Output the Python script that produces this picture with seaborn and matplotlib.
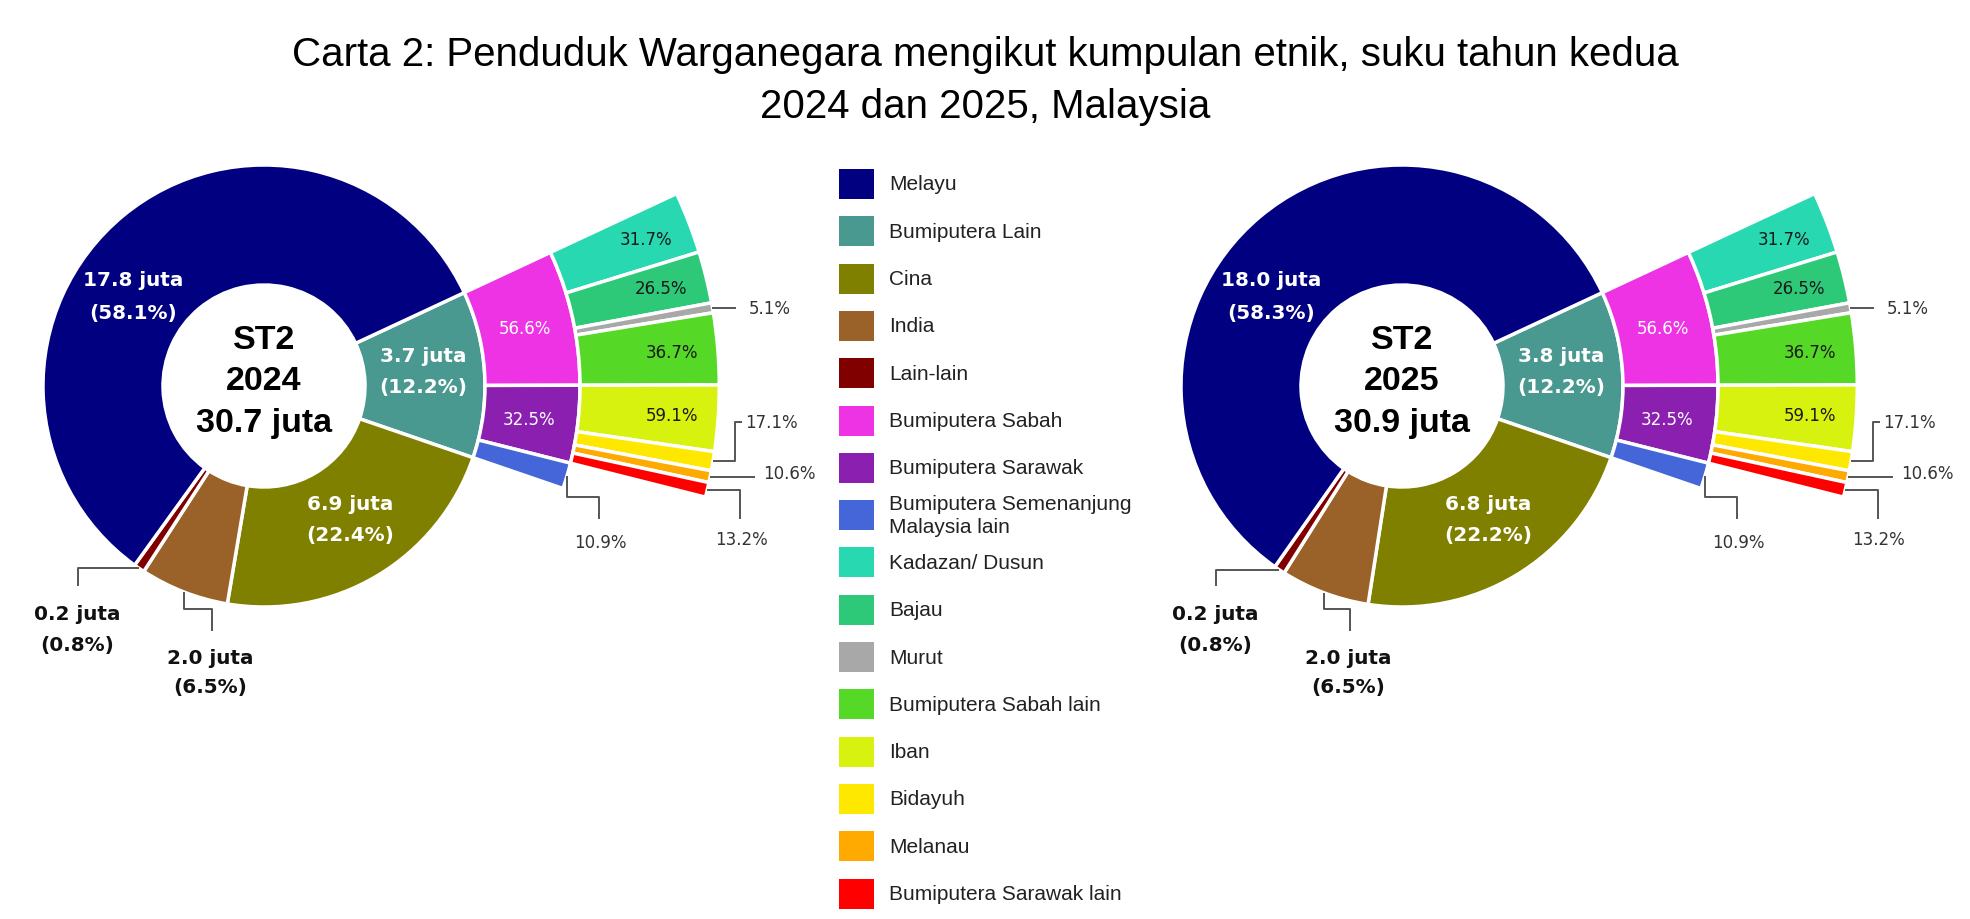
import numpy as np
import matplotlib
matplotlib.use("Agg")
import matplotlib.pyplot as plt
from matplotlib.patches import Rectangle
import seaborn as sns

sns.set_theme(style="white")
plt.rcParams['font.family'] = ['DejaVu Sans']

# inner ring: main ethnic groups
main_groups = ['Melayu', 'Bumiputera Lain', 'Cina', 'India', 'Lain-lain']
main_colors = ['#000080', '#4a9990', '#808000', '#9a6229', '#800000']
juta_2024 = [17.8, 3.7, 6.9, 2.0, 0.2]
pct_2024 = [58.1, 12.2, 22.4, 6.5, 0.8]
juta_2025 = [18.0, 3.8, 6.8, 2.0, 0.2]
pct_2025 = [58.3, 12.2, 22.2, 6.5, 0.8]
total_2024 = 30.7
total_2025 = 30.9

# second ring: breakdown of Bumiputera Lain
bumi_groups = ['Bumiputera Sabah', 'Bumiputera Sarawak', 'Bumiputera Semenanjung\nMalaysia lain']
bumi_colors = ['#ee33e5', '#8b1fb0', '#4466d9']
bumi_pct = [56.6, 32.5, 10.9]

# third ring: breakdown of Sabah and Sarawak
sabah_groups = ['Kadazan/ Dusun', 'Bajau', 'Murut', 'Bumiputera Sabah lain']
sabah_colors = ['#28d8b0', '#2dc878', '#a8a8a8', '#55d826']
sabah_pct = [31.7, 26.5, 5.1, 36.7]
sarawak_groups = ['Iban', 'Bidayuh', 'Melanau', 'Bumiputera Sarawak lain']
sarawak_colors = ['#d8f20f', '#ffe800', '#ffaa00', '#ff0000']
sarawak_pct = [59.1, 17.1, 10.6, 13.2]

H = 920
R = 221
START = 25
LINE = '#555555'
TXT = '#333333'
ARIAL = ['Liberation Sans', 'DejaVu Sans']


def mid_point(w, r, cx, cy):
    a = np.deg2rad((w.theta1 + w.theta2) / 2)
    return cx + r * np.cos(a), cy + r * np.sin(a)


def leader(ax, pts):
    xs, ys = zip(*pts)
    ax.plot(xs, ys, color=LINE, lw=1.4, solid_capstyle='butt')


def two_lines(ax, x, y, l1, l2, step, **kw):
    ax.text(x, y + step / 2, l1, ha='center', va='center', **kw)
    ax.text(x, y - step / 2, l2, ha='center', va='center', **kw)


def donut(ax, cx, cy, jutas, pcts, year, total):
    order = [1, 2, 3, 4, 0]  # clockwise from Bumiputera Lain
    wp = dict(edgecolor='white', linewidth=2.5)
    w1, _ = ax.pie([pcts[i] for i in order], colors=[main_colors[i] for i in order],
                   radius=R, center=(cx, cy), startangle=START, counterclock=False,
                   wedgeprops=dict(width=R * 0.543, **wp))
    teal = pcts[1]
    v2 = [p * teal / 100 for p in bumi_pct] + [100 - teal]
    w2, _ = ax.pie(v2, colors=bumi_colors + ['white'], radius=R * 1.43, center=(cx, cy),
                   startangle=START, counterclock=False,
                   wedgeprops=dict(width=R * 0.43, **wp))
    w2[-1].set_visible(False)
    v3 = [p * bumi_pct[0] * teal / 1e4 for p in sabah_pct] + \
         [p * bumi_pct[1] * teal / 1e4 for p in sarawak_pct]
    v3 = v3 + [100 - sum(v3)]
    w3, _ = ax.pie(v3, colors=sabah_colors + sarawak_colors + ['white'], radius=R * 2.06,
                   center=(cx, cy), startangle=START, counterclock=False,
                   wedgeprops=dict(width=R * 0.63, **wp))
    w3[-1].set_visible(False)

    # centre text
    ctr = dict(ha='center', va='baseline', fontsize=24.5, fontweight='bold',
               color='black', family=ARIAL)
    ax.text(cx, cy + 38, 'ST2', **ctr)
    ax.text(cx, cy - 3, str(year), **ctr)
    ax.text(cx, cy - 45, f'{total:.1f} juta', **ctr)

    # inner ring labels
    l1 = lambda i: f'{jutas[i]:.1f} juta'
    l2 = lambda i: f'({pcts[i]:.1f}%)'
    bold = dict(fontsize=14.4, fontweight='bold')
    two_lines(ax, cx - 131, cy + 90, l1(0), l2(0), 32, color='white', **bold)
    two_lines(ax, cx + 159, cy + 15, l1(1), l2(1), 30, color='white', **bold)
    two_lines(ax, cx + 86, cy - 133, l1(2), l2(2), 31, color='white', **bold)

    x0, y0 = mid_point(w1[3], R, cx, cy)
    leader(ax, [(x0, y0), (cx - 186, y0), (cx - 186, cy - 200)])
    two_lines(ax, cx - 187, cy - 243, l1(4), l2(4), 30, color='#111111', **bold)
    x0, y0 = mid_point(w1[2], R, cx, cy)
    leader(ax, [(x0, y0), (x0, cy - 223), (cx - 52, cy - 223), (cx - 52, cy - 245)])
    two_lines(ax, cx - 54, cy - 286, l1(3), l2(3), 30, color='#111111', **bold)

    # second ring labels
    reg = dict(ha='center', va='center', fontsize=12)
    for k in range(2):
        x, y = mid_point(w2[k], R * 1.21, cx, cy)
        ax.text(x, y, f'{bumi_pct[k]:.1f}%', color='white', **reg)
    x0, y0 = mid_point(w2[2], R * 1.43, cx, cy)
    leader(ax, [(x0, y0), (x0, cy - 111), (cx + 335, cy - 111), (cx + 335, cy - 133)])
    ax.text(cx + 336, cy - 156, f'{bumi_pct[2]:.1f}%', color=TXT, **reg)

    # third ring labels
    for k, p in [(0, sabah_pct[0]), (1, sabah_pct[1]), (3, sabah_pct[3]), (4, sarawak_pct[0])]:
        x, y = mid_point(w3[k], R * 1.85, cx, cy)
        ax.text(x, y, f'{p:.1f}%', color='#1a1a1a', **reg)
    side = dict(color=TXT, ha='left', va='center', fontsize=12)
    x0, y0 = mid_point(w3[2], R * 2.06, cx, cy)
    leader(ax, [(x0, y0), (cx + 472, y0)])
    ax.text(cx + 485, y0, f'{sabah_pct[2]:.1f}%', **side)
    x0, y0 = mid_point(w3[5], R * 2.06, cx, cy)
    leader(ax, [(x0, y0), (cx + 471, y0), (cx + 471, cy - 36), (cx + 478, cy - 36)])
    ax.text(cx + 481, cy - 36, f'{sarawak_pct[1]:.1f}%', **side)
    x0, y0 = mid_point(w3[6], R * 2.06, cx, cy)
    leader(ax, [(x0, y0), (cx + 491, y0)])
    ax.text(cx + 499, y0 + 4, f'{sarawak_pct[2]:.1f}%', **side)
    x0, y0 = mid_point(w3[7], R * 2.06, cx, cy)
    leader(ax, [(x0, y0), (cx + 476, y0), (cx + 476, cy - 133)])
    ax.text(cx + 477, cy - 153, f'{sarawak_pct[3]:.1f}%', color=TXT, **reg)


fig = plt.figure(figsize=(19.7, 9.2), dpi=100)
ax = fig.add_axes([0, 0, 1, 1])

donut(ax, 264, H - 387, juta_2024, pct_2024, 2024, total_2024)
donut(ax, 1402, H - 387, juta_2025, pct_2025, 2025, total_2025)

ax.set_xlim(0, 1970)
ax.set_ylim(0, H)
ax.set_aspect('equal')
ax.axis('off')

# legend
leg_labels = main_groups + bumi_groups + sabah_groups + sarawak_groups
leg_colors = main_colors + bumi_colors + sabah_colors + sarawak_colors
for i, (lb, c) in enumerate(zip(leg_labels, leg_colors)):
    yc = H - (185 + i * 47.3)
    ax.add_patch(Rectangle((839, yc - 15), 35, 30, facecolor=c, edgecolor='none'))
    ax.text(889, yc, lb, ha='left', va='center', fontsize=15, color='#222222',
            family=ARIAL, linespacing=1.3)

fig.text(0.5, 1 - 55 / H, 'Carta 2: Penduduk Warganegara mengikut kumpulan etnik, suku tahun kedua',
         ha='center', va='center', fontsize=29, color='black', family=ARIAL)
fig.text(0.5, 1 - 107 / H, '2024 dan 2025, Malaysia',
         ha='center', va='center', fontsize=29, color='black', family=ARIAL)

fig.savefig('out.png', dpi=100, facecolor='white')
